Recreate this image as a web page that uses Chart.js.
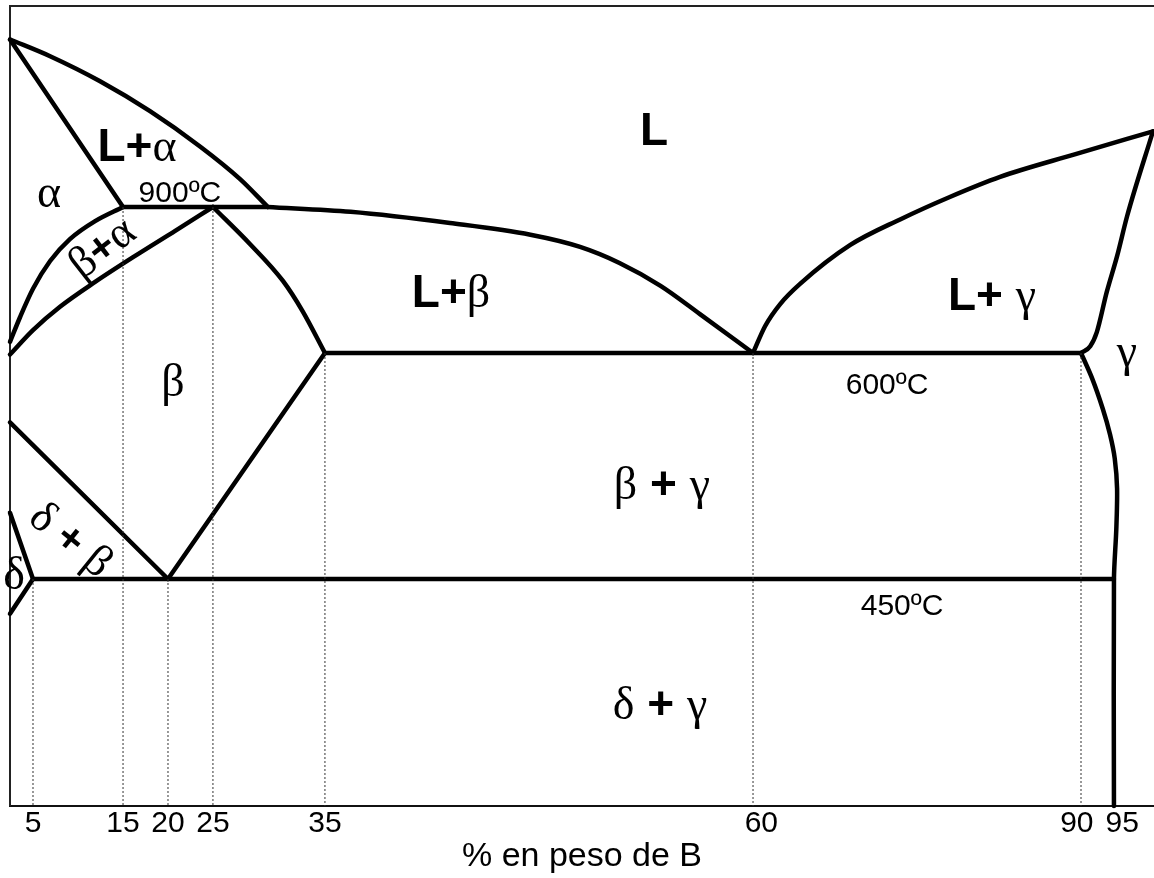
<!DOCTYPE html>
<html>
<head>
<meta charset="utf-8">
<script src="https://cdn.jsdelivr.net/npm/chart.js@4.4.1/dist/chart.umd.min.js"></script>
<style>
html,body{margin:0;padding:0;background:#fff;}
canvas{display:block;}
</style>
</head>
<body>
<canvas id="c" width="1154" height="878"></canvas>
<script>
// ---- data: composition (% B) and temperature (°C) ----
const compTicks = [5, 15, 20, 25, 35, 60, 90, 95];
const axisTitle = '% en peso de B';
const tempMin = 300, tempMax = 1200;

// phase boundaries as [ % B, °C ]
const liquidusAlpha   = [[0,1150],[6.9,1125],[12.4,1088],[18.0,1043],[23.6,990],[27.4,942],[29.9,900]];
const solidusAlpha    = [[0,1150],[15,900]];
const peritecticLine  = [[15,900],[29.9,900]];
const liquidusBeta    = [[29.9,900],[36.5,890],[42.3,867],[47.0,843],[49.9,818],[52.2,785],[54.6,738],[56.9,680],[60,600]];
const solvusAlpha     = [[0,623],[2.2,674],[5,732],[6.9,789],[9.1,834],[11.9,871],[15,900]];
const solvusBetaHigh  = [[0,599],[5,647],[8.0,695],[11.9,746],[16.3,799],[20.8,851],[25,900]];
const solidusBeta     = [[25,900],[28.3,824],[31.25,748],[33.0,686],[35,600]];
const eutecticLine    = [[35,600],[90,600]];
const solvusBetaLow   = [[35,600],[20,450]];
const solvusDeltaBeta = [[0,554],[20,450]];
const eutectoidLine   = [[5,450],[95,450]];
const solvusDeltaUp   = [[0,494],[5,450]];
const solvusDeltaLow  = [[5,450],[0,427]];
const liquidusGamma   = [[60,600],[61.1,655],[62.5,701],[64.3,742],[68.9,822],[73.5,875],[78.0,915],[82.6,945],[89.5,979],[100,1013]];
const solidusGamma    = [[100,1013],[96.7,882],[95.4,799],[93.9,725],[92.4,643],[91.4,614],[90,600]];
const solvusGamma     = [[90,600],[91.7,583],[93.3,563],[94.4,546],[95.1,530],[95.4,510],[95.3,483],[95,450],[95,300]];
// dotted guide lines: composition and the temperature where they start (down to the axis)
const guideComp = [5, 15, 20, 25, 35, 60, 90];
const guideTemp = [450, 900, 450, 900, 600, 600, 600];

// region labels: parts, composition, temperature (baseline), rotation
const regionLabels = [
  {parts:[['L','b']], x:54.22, t:992.5},
  {parts:[['L+','b'],['α','g']], x:16.56, t:968.7},
  {parts:[['α','g']], x:6.78, t:900},
  {parts:[['900ºC','s']], x:21.33, t:907.5},
  {parts:[['L+','b'],['β','g']], x:42.36, t:694.5},
  {parts:[['L+ ','b'],['γ','g']], x:81.86, t:688.4},
  {parts:[['γ','g']], x:96.67, t:591.4},
  {parts:[['β','g']], x:20.56, t:571.5},
  {parts:[['600ºC','s']], x:72.26, t:572.8},
  {parts:[['β','g'],[' + ','b'],['γ','g']], x:54.68, t:503.1},
  {parts:[['δ','g'],[' + ','b'],['γ','g']], x:54.57, t:357.5},
  {parts:[['450ºC','s']], x:73.63, t:426.2},
  {parts:[['δ','g']], x:0.87, t:443.4},
  {parts:[['β','r'],['+','rb'],['α','r']], x:12.78, t:813.7, rot:-38, mid:true},
  {parts:[['δ','r'],[' + ','rb'],['β','r']], x:9.11, t:475.2, rot:39, mid:true}
];

// ---- piecewise scale (schematic, non-uniform axis as in the drawing) ----
class PiecewiseScale extends Chart.LinearScale {
  _dec(v) {
    const k = this.options.knots, p = this.options.knotPos;
    if (v <= k[0]) return p[0];
    for (let i = 0; i < k.length - 1; i++) {
      if (v <= k[i+1]) return p[i] + (v - k[i]) / (k[i+1] - k[i]) * (p[i+1] - p[i]);
    }
    return p[p.length - 1];
  }
  getPixelForValue(value) {
    if (value === null || value === undefined || isNaN(value)) return NaN;
    return this.getPixelForDecimal(this._dec(value));
  }
  getValueForPixel(pixel) {
    const d = this.getDecimalForPixel(pixel);
    const k = this.options.knots, p = this.options.knotPos;
    for (let i = 0; i < k.length - 1; i++) {
      if (d <= p[i+1]) return k[i] + (d - p[i]) / (p[i+1] - p[i]) * (k[i+1] - k[i]);
    }
    return k[k.length - 1];
  }
}
PiecewiseScale.id = 'piecewise';
PiecewiseScale.defaults = Chart.LinearScale.defaults;
Chart.register(PiecewiseScale);

const fonts = {
  b: 'bold 46px "Liberation Sans", Arial, sans-serif',
  g: '46px "Liberation Serif", "Times New Roman", serif',
  s: '30px "Liberation Sans", Arial, sans-serif',
  r: '45px "Liberation Serif", serif',
  rb: 'bold 42px "Liberation Sans", Arial, sans-serif'
};

const toXY = a => a.map(([x, y]) => ({x, y}));
const solid = (pts, mode) => ({
  data: toXY(pts), borderColor: '#000', borderWidth: 4.5, pointRadius: 0,
  tension: mode === 'b' ? 0.3 : 0, cubicInterpolationMode: mode === 'm' ? 'monotone' : 'default',
  fill: false, clip: false, borderCapStyle: 'round', borderJoinStyle: 'round'
});

const datasets = [];
guideComp.forEach((c, i) => {
  datasets.push({
    data: toXY([[c, guideTemp[i]], [c, tempMin]]), borderColor: '#333', borderWidth: 1,
    borderDash: [2, 2], pointRadius: 0, tension: 0, fill: false
  });
});
datasets.push(
  solid(liquidusAlpha, 'm'), solid(solidusAlpha), solid(peritecticLine),
  solid(liquidusBeta, 'm'), solid(solvusAlpha, 'm'), solid(solvusBetaHigh, 'm'),
  solid(solidusBeta, 'm'), solid(eutecticLine), solid(solvusBetaLow), solid(solvusDeltaBeta),
  solid(eutectoidLine), solid(solvusDeltaUp), solid(solvusDeltaLow),
  solid(liquidusGamma, 'm'), solid(solidusGamma, 'm'), solid(solvusGamma, 'b')
);

const framePlugin = {
  id: 'frame',
  beforeDatasetsDraw(chart) {
    const {ctx, chartArea: a} = chart;
    ctx.save();
    ctx.strokeStyle = '#222'; ctx.lineWidth = 2;
    ctx.beginPath();
    ctx.moveTo(a.left, a.bottom); ctx.lineTo(a.left, a.top); ctx.lineTo(a.right, a.top);
    ctx.stroke();
    ctx.restore();
  }
};
const labelPlugin = {
  id: 'labels',
  afterDatasetsDraw(chart) {
    const {ctx, scales: {x, y}} = chart;
    regionLabels.forEach(L => {
      const px = x.getPixelForValue(L.x), py = y.getPixelForValue(L.t);
      ctx.save();
      ctx.translate(px, py);
      if (L.rot) ctx.rotate(L.rot * Math.PI / 180);
      ctx.fillStyle = '#000';
      ctx.textAlign = 'left';
      ctx.textBaseline = L.mid ? 'middle' : 'alphabetic';
      let total = 0;
      const w = L.parts.map(([t, f]) => { ctx.font = fonts[f]; const m = ctx.measureText(t).width; total += m; return m; });
      let cx = -total / 2;
      L.parts.forEach(([t, f], i) => { ctx.font = fonts[f]; ctx.fillText(t, cx, 0); cx += w[i]; });
      ctx.restore();
    });
  }
};

// tick labels in the original are slightly displaced from their guide lines
const tickPad = {60: ['  ', ''], 90: ['', ' '], 95: ['  ', '']};

new Chart(document.getElementById('c'), {
  type: 'line',
  data: {datasets},
  options: {
    responsive: false,
    animation: false,
    events: [],
    layout: {padding: {left: 10, top: 6, right: 0, bottom: 0}},
    plugins: {legend: {display: false}, tooltip: {enabled: false}},
    scales: {
      x: {
        type: 'piecewise', min: 0, max: 100,
        knots:   [0, 5, 15, 20, 25, 35, 60, 90, 95, 100],
        knotPos: [0, 0.0201, 0.0988, 0.1381, 0.1774, 0.2753, 0.6495, 0.9362, 0.9650, 0.9991],
        afterBuildTicks: s => { s.ticks = compTicks.map(v => ({value: v})); },
        afterFit: s => { s.height = 72; },
        grid: {display: false, drawTicks: false},
        border: {display: true, color: '#111', width: 2},
        ticks: {
          autoSkip: false, maxRotation: 0, minRotation: 0, padding: 3, color: '#000',
          font: {family: '"Liberation Sans", Arial, sans-serif', size: 30, lineHeight: 1},
          callback: v => { const p = tickPad[v] || ['', '']; return p[0] + String(v) + p[1]; }
        },
        title: {
          display: true, text: axisTitle, color: '#000',
          font: {family: '"Liberation Sans", Arial, sans-serif', size: 34, lineHeight: 1},
          padding: {top: 0, bottom: 4}
        }
      },
      y: {
        type: 'piecewise', display: false, min: tempMin, max: tempMax,
        knots:   [300, 450, 600, 900, 1200],
        knotPos: [0, 0.28375, 0.56625, 0.74875, 1]
      }
    }
  },
  plugins: [framePlugin, labelPlugin]
});
</script>
</body>
</html>
